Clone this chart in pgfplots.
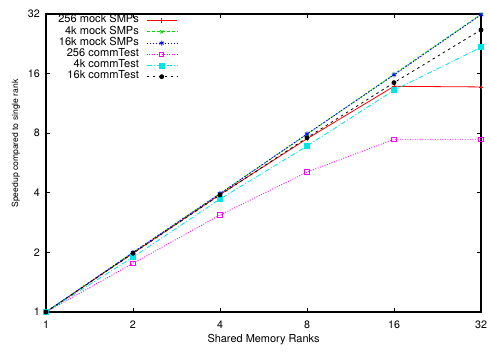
\documentclass[border=0pt]{standalone}
\usepackage{pgfplots}
\pgfplotsset{compat=1.18}
\usepackage{fontspec}
\setmainfont{TeX Gyre Heros}
\definecolor{cRed}{rgb}{1,0,0}
\definecolor{cGreen}{rgb}{0,0.85,0}
\definecolor{cBlue}{rgb}{0,0,1}
\definecolor{cMag}{rgb}{1,0,1}
\definecolor{cCyan}{rgb}{0,0.9,0.9}
\begin{document}
\begin{tikzpicture}
\begin{axis}[
  name=ax,
  scale only axis,
  width=435bp, height=298bp,
  xmode=log, ymode=log, log basis x=2, log basis y=2,
  xmin=1, xmax=32, ymin=1, ymax=32,
  xtick={1,2,4,8,16,32}, xticklabels={1,2,4,8,16,32},
  ytick={1,2,4,8,16,32}, yticklabels={1,2,4,8,16,32},
  minor tick num=0,
  tick align=inside,
  major tick length=4.5bp,
  axis line style={line width=1.1bp},
  every tick/.style={black, line width=0.8bp},
  /pgf/number format/assume math mode=true,
  tick label style={font=\fontsize{10.8}{12}\selectfont, inner sep=0pt},
  xticklabel shift=8.7bp,
  yticklabel shift=6bp,
  xlabel={Shared Memory Ranks},
  ylabel={Speedup compared to single rank},
  xlabel style={font=\fontsize{11}{13}\selectfont, at={(axis description cs:0.5,-0.094)}, anchor=center, inner sep=0pt},
  ylabel style={font=\fontsize{8.6}{10}\selectfont, at={(axis description cs:-0.069,0.5654)}, anchor=center, inner sep=0pt},
  clip=false,
  legend plot pos=right,
  legend cell align=right,
  legend style={draw=none, fill=none, at={(axis description cs:0.0283,0.9963)}, anchor=north west,
    inner sep=0pt, outer sep=0pt, row sep=0pt, column sep=7.4bp,
    font=\fontsize{11.1}{12}\selectfont,
    nodes={inner sep=0pt, text height=7.8bp, text depth=3.4bp}},
  legend image code/.code={\draw[mark repeat=2,mark phase=2] plot coordinates {(0cm,0cm) (0.53cm,0cm) (1.06cm,0cm)};},
]
\addplot[cRed, line width=0.8bp, mark=+, mark size=2.2bp, mark options={solid}] coordinates {(1,1)(2,1.98)(4,3.92)(8,7.5)(16,13.8)(32,13.7)};
\addlegendentry{256 mock SMPs}
\addplot[cGreen, line width=0.8bp, dash pattern=on 3bp off 2bp, mark=x, mark size=2.2bp, mark options={solid}] coordinates {(1,1)(2,2.0)(4,3.97)(8,7.9)(16,15.9)(32,31.9)};
\addlegendentry{4k mock SMPs}
\addplot[cBlue, line width=0.8bp, dash pattern=on 1.5bp off 1.5bp, mark=asterisk, mark size=2.5bp, mark options={solid}] coordinates {(1,1)(2,2.0)(4,3.96)(8,7.93)(16,15.75)(32,31.7)};
\addlegendentry{16k mock SMPs}
\addplot[cMag, line width=0.8bp, dash pattern=on 1bp off 1.5bp, mark=square, mark size=2.2bp, mark options={solid}] coordinates {(1,1)(2,1.76)(4,3.09)(8,5.09)(16,7.45)(32,7.45)};
\addlegendentry{256 commTest}
\addplot[cCyan, line width=0.8bp, dash pattern=on 5bp off 2bp on 1bp off 2bp, mark=square*, mark size=2.5bp, mark options={solid}] coordinates {(1,1)(2,1.89)(4,3.72)(8,6.89)(16,13.2)(32,21.7)};
\addlegendentry{4k commTest}
\addplot[black, line width=0.8bp, dash pattern=on 2.5bp off 3.5bp, mark=*, mark size=2bp, mark options={solid}] coordinates {(1,1)(2,1.98)(4,3.90)(8,7.59)(16,14.4)(32,26.6)};
\addlegendentry{16k commTest}
\end{axis}
\pgfresetboundingbox
\path ([shift={(-46bp,-40bp)}]ax.south west) rectangle ([shift={(8bp,14bp)}]ax.north east);
\end{tikzpicture}
\end{document}
